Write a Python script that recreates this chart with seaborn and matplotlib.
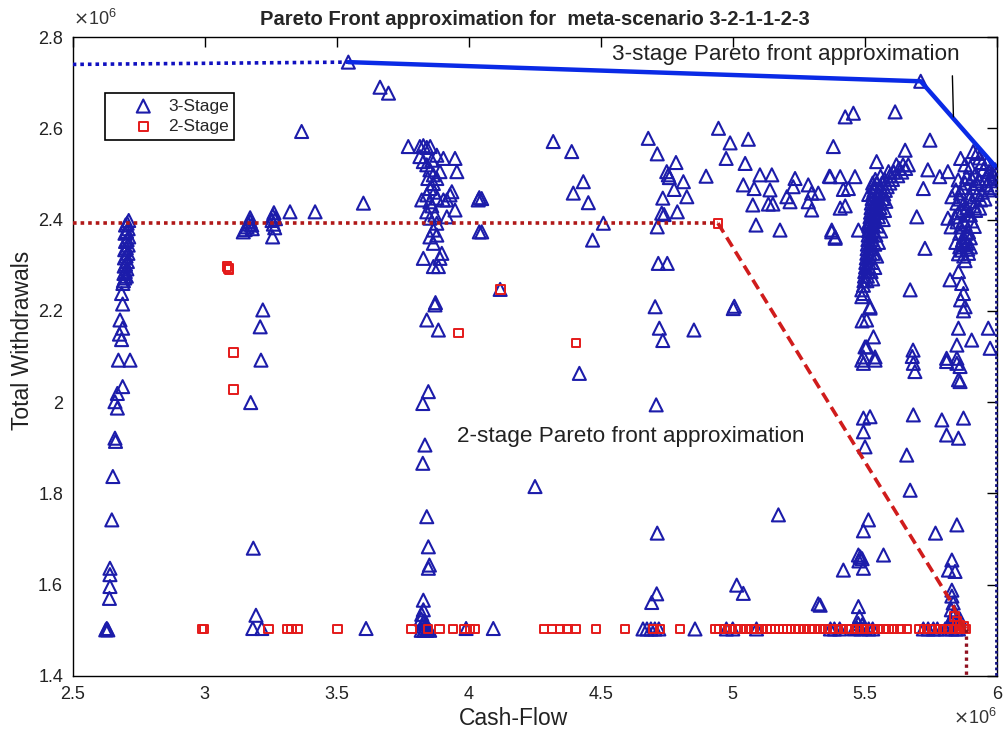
import matplotlib
matplotlib.use("Agg")
import matplotlib.pyplot as plt
import numpy as np
import pandas as pd
import seaborn as sns
from matplotlib.ticker import FixedLocator, FuncFormatter

SCALE = 1e6  # axis values are shown as x10^6

# ---------------- data (values in millions) ----------------
# 3-stage solutions (Cash-Flow, Total Withdrawals)
tri_front = [(3.544, 2.745), (5.712, 2.703)]
tri_col_a = [
    (2.712, 2.398), (2.706, 2.392), (2.700, 2.388), (2.710, 2.380), (2.704, 2.374),
    (2.698, 2.370), (2.712, 2.362), (2.706, 2.356), (2.700, 2.352), (2.710, 2.344),
    (2.703, 2.338), (2.697, 2.334), (2.709, 2.326), (2.702, 2.320), (2.696, 2.316),
    (2.707, 2.308), (2.700, 2.302), (2.695, 2.298), (2.705, 2.292), (2.699, 2.286),
    (2.694, 2.282), (2.703, 2.276), (2.697, 2.272), (2.692, 2.266), (2.690, 2.260),
    (2.685, 2.238), (2.689, 2.215), (2.679, 2.180), (2.689, 2.162), (2.677, 2.149),
    (2.685, 2.137), (2.673, 2.092), (2.717, 2.092), (2.689, 2.034), (2.669, 2.019),
    (2.660, 2.001), (2.669, 1.987), (2.660, 1.921), (2.662, 1.914), (2.652, 1.837),
    (2.648, 1.742), (2.641, 1.636), (2.641, 1.622), (2.641, 1.596), (2.639, 1.570),
    (2.629, 1.504), (2.625, 1.501), (2.633, 1.501),
]
tri_col_b = [
    (3.146, 2.373), (3.153, 2.378), (3.160, 2.384), (3.166, 2.390), (3.172, 2.396),
    (3.172, 2.404), (3.178, 2.388), (3.180, 2.380), (3.255, 2.398), (3.258, 2.408),
    (3.262, 2.415), (3.260, 2.390), (3.265, 2.382), (3.257, 2.362), (3.268, 2.402),
    (3.323, 2.417), (3.418, 2.417), (3.601, 2.436), (3.220, 2.202), (3.210, 2.165),
    (3.213, 2.092), (3.174, 1.999), (3.184, 1.680), (3.194, 1.533), (3.182, 1.504),
    (3.216, 1.504), (3.367, 2.593), (3.611, 1.504), (3.664, 2.690), (3.696, 2.677),
]
tri_col_c = [
    (3.771, 2.560), (3.815, 2.560), (3.828, 2.562), (3.841, 2.558), (3.854, 2.560),
    (3.879, 2.541), (3.904, 2.534), (3.948, 2.534), (3.955, 2.505), (3.815, 2.538),
    (3.828, 2.527), (3.841, 2.520), (3.853, 2.509), (3.866, 2.498), (3.879, 2.490),
    (3.891, 2.505), (3.866, 2.479), (3.853, 2.468), (3.841, 2.454), (3.822, 2.443),
    (3.853, 2.439), (3.879, 2.447), (3.904, 2.443), (3.929, 2.454), (3.936, 2.461),
    (3.917, 2.443), (3.948, 2.421), (3.917, 2.406), (3.841, 2.417), (3.853, 2.403),
    (3.879, 2.392), (3.866, 2.377), (3.879, 2.366), (3.853, 2.362), (3.866, 2.348),
    (3.898, 2.326), (3.891, 2.315), (3.828, 2.315), (3.866, 2.297), (3.885, 2.297),
    (3.860, 2.530), (3.845, 2.490), (3.870, 2.460), (3.860, 2.430), (3.872, 2.410),
    (4.036, 2.443), (4.040, 2.448), (4.040, 2.373), (3.872, 2.213), (3.874, 2.218),
    (3.841, 2.180), (3.885, 2.158), (3.847, 2.023), (3.826, 1.997), (3.834, 1.906),
    (3.826, 1.866), (3.841, 1.749), (3.847, 1.683), (3.851, 1.643), (3.847, 1.636),
    (3.828, 1.566), (3.828, 1.545), (3.822, 1.535), (3.820, 1.525), (3.830, 1.520),
    (3.838, 1.515), (3.825, 1.510), (3.835, 1.505), (3.845, 1.502), (3.820, 1.500),
    (3.830, 1.500), (3.840, 1.500), (3.852, 1.500), (3.990, 1.504), (4.093, 1.504),
]
tri_mid = [
    (4.049, 2.446), (4.049, 2.373), (4.320, 2.571), (4.390, 2.549), (4.434, 2.483),
    (4.396, 2.458), (4.453, 2.437), (4.510, 2.392), (4.469, 2.355), (4.680, 2.578),
    (4.714, 2.544), (4.785, 2.525), (4.756, 2.498), (4.750, 2.505), (4.760, 2.492),
    (4.813, 2.483), (4.778, 2.466), (4.735, 2.447), (4.826, 2.450), (4.731, 2.414),
    (4.740, 2.411), (4.790, 2.417), (4.714, 2.384), (4.718, 2.304), (4.752, 2.304),
    (4.706, 2.209), (4.722, 2.162), (4.735, 2.135), (4.853, 2.158), (4.119, 2.247),
    (4.899, 2.495), (4.946, 2.600), (4.990, 2.568), (5.059, 2.576), (4.975, 2.534),
    (5.047, 2.523), (5.103, 2.498), (5.148, 2.498), (5.040, 2.476), (5.081, 2.468),
    (5.141, 2.465), (5.076, 2.432), (5.135, 2.434), (5.152, 2.434), (5.236, 2.490),
    (5.229, 2.472), (5.205, 2.450), (5.217, 2.439), (5.286, 2.476), (5.299, 2.458),
    (5.324, 2.458), (5.286, 2.439), (5.299, 2.421), (5.088, 2.388), (5.179, 2.377),
    (5.375, 2.373), (5.388, 2.359), (5.381, 2.560), (5.366, 2.495), (5.002, 2.205),
    (5.006, 2.210), (4.419, 2.063), (4.710, 1.994), (4.251, 1.815), (4.714, 1.713),
    (5.173, 1.753), (5.015, 1.599), (5.040, 1.581), (4.712, 1.580), (4.693, 1.561),
    (5.324, 1.558),
]
tri_top_right = [
    (5.426, 2.625), (5.457, 2.633), (5.615, 2.636), (5.545, 2.527), (5.653, 2.552),
    (5.747, 2.574), (5.369, 2.494), (5.407, 2.494), (5.463, 2.494), (5.419, 2.466),
    (5.438, 2.468), (5.407, 2.425), (5.426, 2.430), (5.375, 2.377), (5.388, 2.362),
    (5.476, 2.377), (5.514, 2.392), (5.739, 2.509), (5.784, 2.494), (5.815, 2.505),
    (5.697, 2.406), (5.728, 2.337), (5.672, 2.246), (5.722, 2.468), (5.815, 2.403),
    (5.827, 2.384),
]
tri_band = [
    (5.645, 2.520), (5.665, 2.520), (5.630, 2.512), (5.655, 2.512), (5.610, 2.504),
    (5.640, 2.504), (5.595, 2.496), (5.625, 2.496), (5.540, 2.488), (5.575, 2.488),
    (5.605, 2.488), (5.545, 2.480), (5.565, 2.480), (5.595, 2.480), (5.535, 2.472),
    (5.560, 2.472), (5.585, 2.472), (5.535, 2.464), (5.555, 2.464), (5.578, 2.464),
    (5.530, 2.456), (5.552, 2.456), (5.572, 2.456), (5.528, 2.446), (5.548, 2.446),
    (5.568, 2.446), (5.525, 2.436), (5.545, 2.436), (5.562, 2.436), (5.524, 2.426),
    (5.543, 2.426), (5.558, 2.426), (5.522, 2.416), (5.540, 2.416), (5.555, 2.416),
    (5.520, 2.406), (5.538, 2.406), (5.552, 2.406), (5.518, 2.396), (5.535, 2.396),
    (5.516, 2.386), (5.533, 2.386), (5.548, 2.386), (5.515, 2.376), (5.530, 2.376),
    (5.513, 2.366), (5.528, 2.366), (5.542, 2.366), (5.512, 2.356), (5.526, 2.356),
    (5.510, 2.346), (5.524, 2.346), (5.538, 2.346), (5.509, 2.336), (5.522, 2.336),
    (5.508, 2.326), (5.520, 2.326), (5.533, 2.326), (5.506, 2.316), (5.518, 2.316),
    (5.504, 2.306), (5.516, 2.306), (5.528, 2.306), (5.503, 2.296), (5.514, 2.296),
    (5.500, 2.286), (5.512, 2.286), (5.524, 2.286), (5.499, 2.276), (5.510, 2.276),
    (5.497, 2.266), (5.508, 2.266), (5.495, 2.256),
    (5.620, 2.520), (5.590, 2.505), (5.560, 2.495), (5.530, 2.480), (5.515, 2.455),
    (5.580, 2.440), (5.575, 2.420), (5.570, 2.400), (5.560, 2.375), (5.552, 2.350),
    (5.545, 2.320), (5.538, 2.295), (5.530, 2.270),
    (5.495, 2.238), (5.489, 2.246), (5.489, 2.231), (5.520, 2.209), (5.520, 2.206),
    (5.507, 2.180), (5.490, 2.178), (5.533, 2.143), (5.501, 2.121), (5.507, 2.121),
    (5.495, 2.099), (5.539, 2.099), (5.489, 2.092), (5.495, 2.085), (5.539, 2.092),
    (5.683, 2.114), (5.680, 2.100), (5.684, 2.085), (5.690, 2.067),
]
tri_right = [
    (5.863, 2.534), (5.911, 2.549), (5.962, 2.523), (5.994, 2.509), (5.975, 2.490),
    (5.886, 2.494), (5.854, 2.487), (5.924, 2.479), (5.962, 2.476), (5.863, 2.458),
    (5.900, 2.450), (5.939, 2.443), (5.849, 2.436), (5.886, 2.425), (5.920, 2.420),
    (5.842, 2.406), (5.874, 2.399), (5.905, 2.397), (5.863, 2.384), (5.893, 2.373),
    (5.874, 2.362), (5.886, 2.348), (5.867, 2.333), (5.893, 2.326), (5.855, 2.325),
    (5.935, 2.535), (5.950, 2.510), (5.920, 2.500), (5.900, 2.515), (5.880, 2.520),
    (5.985, 2.500), (5.970, 2.465), (5.945, 2.460), (5.910, 2.470), (5.870, 2.470),
    (5.845, 2.465), (5.830, 2.450), (5.915, 2.430), (5.955, 2.445), (5.985, 2.485),
    (5.855, 2.415), (5.890, 2.410), (5.860, 2.370), (5.900, 2.360), (5.875, 2.345),
    (5.880, 2.310), (5.900, 2.340), (5.845, 2.350),
    (5.925, 2.545), (5.945, 2.525), (5.970, 2.505), (5.990, 2.495), (5.905, 2.490),
    (5.935, 2.485), (5.880, 2.480), (5.860, 2.445), (5.925, 2.455), (5.875, 2.435),
    (5.905, 2.440), (5.935, 2.425), (5.870, 2.420), (5.900, 2.410), (5.880, 2.390),
    (5.915, 2.385), (5.850, 2.395), (5.885, 2.370), (5.870, 2.355), (5.890, 2.335),
    (5.860, 2.340), (5.875, 2.320), (5.960, 2.490), (5.990, 2.470),
    (5.855, 2.286), (5.823, 2.268), (5.867, 2.260), (5.874, 2.238), (5.863, 2.224),
    (5.880, 2.209), (5.874, 2.200), (5.855, 2.162), (5.905, 2.136), (5.849, 2.125),
    (5.968, 2.162), (5.975, 2.118), (5.810, 2.096), (5.849, 2.096), (5.810, 2.089),
    (5.849, 2.085), (5.861, 2.078), (5.855, 2.049), (5.861, 2.045),
]
tri_low_right = [
    (5.495, 1.965), (5.520, 1.968), (5.495, 1.935), (5.501, 1.902), (5.684, 1.972),
    (5.659, 1.884), (5.672, 1.807), (5.792, 1.961), (5.874, 1.965), (5.810, 1.928),
    (5.855, 1.921), (5.514, 1.742), (5.495, 1.718), (5.768, 1.713), (5.849, 1.731),
    (5.476, 1.665), (5.483, 1.661), (5.490, 1.657), (5.478, 1.652), (5.571, 1.665),
    (5.419, 1.632), (5.495, 1.636), (5.830, 1.654), (5.817, 1.632), (5.842, 1.629),
    (5.830, 1.588), (5.830, 1.575), (5.835, 1.560), (5.828, 1.545), (5.476, 1.552),
    (5.480, 1.530), (5.475, 1.515), (5.490, 1.512), (5.470, 1.505), (5.485, 1.503),
    (5.500, 1.505), (5.515, 1.503), (5.460, 1.503), (5.530, 1.503), (5.331, 1.555),
]
tri_base = [
    (4.660, 1.503), (4.675, 1.503), (4.690, 1.503), (4.705, 1.503), (4.720, 1.503),
    (4.857, 1.503), (4.976, 1.503), (5.000, 1.503), (5.090, 1.503), (5.370, 1.503),
    (5.385, 1.503), (5.405, 1.503), (5.722, 1.503), (5.740, 1.503), (5.760, 1.503),
    (5.775, 1.503), (5.805, 1.503), (5.815, 1.510), (5.825, 1.520), (5.835, 1.530),
    (5.845, 1.503), (5.850, 1.515), (5.840, 1.540), (5.830, 1.503), (5.855, 1.503),
    (5.860, 1.525),
]

# 2-stage solutions
sq_upper = [
    (3.089, 2.293), (3.085, 2.297), (3.092, 2.290), (3.108, 2.109), (3.108, 2.028),
    (4.121, 2.247), (3.961, 2.151), (4.406, 2.130), (4.944, 2.392),
    (5.840, 1.530), (5.850, 1.520), (5.860, 1.512), (5.875, 1.508),
]
sq_base_y = 1.503
sq_base_x = [
    2.990, 2.998, 3.241, 3.314, 3.328, 3.352, 3.503, 3.783, 3.846, 3.890, 3.941,
    3.985, 4.005, 4.024, 4.285, 4.315, 4.345, 4.375, 4.405, 4.482, 4.592, 4.700,
    4.725, 4.801, 4.935, 4.950, 4.970, 4.990, 5.010, 5.030, 5.050, 5.070, 5.090,
    5.110, 5.130, 5.145, 5.160, 5.175, 5.190, 5.205, 5.220, 5.235, 5.250, 5.270,
    5.290, 5.310, 5.330, 5.350, 5.370, 5.390, 5.410, 5.430, 5.450, 5.470, 5.490,
    5.510, 5.530, 5.550, 5.570, 5.590, 5.610, 5.635, 5.660, 5.705, 5.725, 5.745,
    5.765, 5.785, 5.805, 5.825, 5.845, 5.865, 5.883,
]

# Pareto front approximations
front3_dot_x, front3_dot_y = [2.5, 3.544], [2.740, 2.745]
front3_x, front3_y = [3.544, 5.712, 5.997], [2.745, 2.703, 2.515]
front3_end_x, front3_end_y = [5.997, 5.997], [2.515, 1.40]
front2_dot_x, front2_dot_y = [2.5, 4.944], [2.392, 2.392]
front2_x, front2_y = [4.944, 5.830, 5.860, 5.883], [2.392, 1.560, 1.520, 1.503]
front2_end_x, front2_end_y = [5.883, 5.883], [1.503, 1.40]
pointer_x, pointer_y = [5.832, 5.836], [2.715, 2.625]

x_ticks = [2.5, 3, 3.5, 4, 4.5, 5, 5.5, 6]
y_ticks = [1.4, 1.6, 1.8, 2.0, 2.2, 2.4, 2.6, 2.8]

# ---------------- plotting ----------------
sns.set_style("white")
plt.rcParams["font.family"] = ["Liberation Sans", "DejaVu Sans"]

TRI = "#1c1caa"
SQ = "#e41a1a"
BLUE_LINE = "#0a2ae6"
RED_LINE = "#d01c1c"

tri_pts = (tri_front + tri_col_a + tri_col_b + tri_col_c + tri_mid + tri_top_right
           + tri_band + tri_right + tri_low_right + tri_base)
sq_pts = sq_upper + [(x, sq_base_y) for x in sq_base_x]

df3 = pd.DataFrame(tri_pts, columns=["cash", "withdrawals"]) * SCALE
df2 = pd.DataFrame(sq_pts, columns=["cash", "withdrawals"]) * SCALE

fig = plt.figure(figsize=(10.06, 7.33), dpi=100)
ax = fig.add_axes([0.0723, 0.0778, 0.9185, 0.8717])

sns.scatterplot(data=df3, x="cash", y="withdrawals", marker="^", s=88,
                color=TRI, facecolor="none", edgecolor=TRI, linewidth=1.5,
                label="3-Stage", ax=ax, zorder=3)
sns.scatterplot(data=df2, x="cash", y="withdrawals", marker="s", s=38,
                color=SQ, facecolor="none", edgecolor=SQ, linewidth=1.4,
                label="2-Stage", ax=ax, zorder=3)

def line(xs, ys, **kw):
    sns.lineplot(x=np.array(xs) * SCALE, y=np.array(ys) * SCALE, sort=False,
                 estimator=None, legend=False, ax=ax, **kw)

line(front3_dot_x, front3_dot_y, color="#1010c0", linewidth=2.6,
     linestyle=(0, (1, 1.1)), zorder=4)
line(front3_x, front3_y, color=BLUE_LINE, linewidth=3.2, zorder=4)
line(front3_end_x, front3_end_y, color="#101080", linewidth=2.0,
     linestyle=(0, (1, 1)), zorder=4, clip_on=False)
line(front2_dot_x, front2_dot_y, color="#b01818", linewidth=2.6,
     linestyle=(0, (1, 1.1)), zorder=4)
line(front2_x, front2_y, color=RED_LINE, linewidth=2.6,
     linestyle=(0, (3, 1.6)), zorder=4)
line(front2_end_x, front2_end_y, color="#901020", linewidth=2.4,
     linestyle=(0, (1, 1.1)), zorder=4)
line(pointer_x, pointer_y, color="black", linewidth=1.0, zorder=4)

ax.text(4.543 * SCALE, 2.761 * SCALE, "3-stage Pareto front approximation",
        fontsize=16.2, ha="left", va="center", color="#222222")
ax.text(3.956 * SCALE, 1.924 * SCALE, "2-stage Pareto front approximation",
        fontsize=16.2, ha="left", va="center", color="#222222")

ax.set_xlim(2.5 * SCALE, 6.0 * SCALE)
ax.set_ylim(1.4 * SCALE, 2.8 * SCALE)
ax.xaxis.set_major_locator(FixedLocator([v * SCALE for v in x_ticks]))
ax.yaxis.set_major_locator(FixedLocator([v * SCALE for v in y_ticks]))
fmt = FuncFormatter(lambda v, pos: f"{v / SCALE:g}")
ax.xaxis.set_major_formatter(fmt)
ax.yaxis.set_major_formatter(fmt)
ax.tick_params(direction="in", length=7, width=1, top=True, right=True,
               labelsize=13, pad=7, colors="black", labelcolor="#222222")
for sp in ax.spines.values():
    sp.set_color("black")
    sp.set_linewidth(1.0)

ax.text(0.0, 1.012, r"$\times\mathregular{10^{6}}$", transform=ax.transAxes,
        fontsize=13, ha="left", va="bottom", color="#333333")
ax.text(1.0, -0.05, r"$\times\mathregular{10^{6}}$", transform=ax.transAxes,
        fontsize=13, ha="right", va="top", color="#333333")

ax.set_xlabel("Cash-Flow", fontsize=16.5, color="#222222")
ax.set_ylabel("Total Withdrawals", fontsize=16.5, color="#222222")
ax.xaxis.set_label_coords(0.4765, -0.048)
ax.yaxis.set_label_coords(-0.042, 0.526)

ax.set_title("Pareto Front approximation for  meta-scenario 3-2-1-1-2-3",
             fontsize=14.5, fontweight="bold", pad=9)

leg = ax.legend(loc="upper left", bbox_to_anchor=(0.035, 0.912), frameon=True,
                fancybox=False, edgecolor="black", framealpha=1, fontsize=12.5,
                handlelength=3.8, handletextpad=-0.45, borderpad=0.3,
                labelspacing=0.32, borderaxespad=0)
leg.get_frame().set_linewidth(1.2)

fig.savefig("out.png", dpi=100)
